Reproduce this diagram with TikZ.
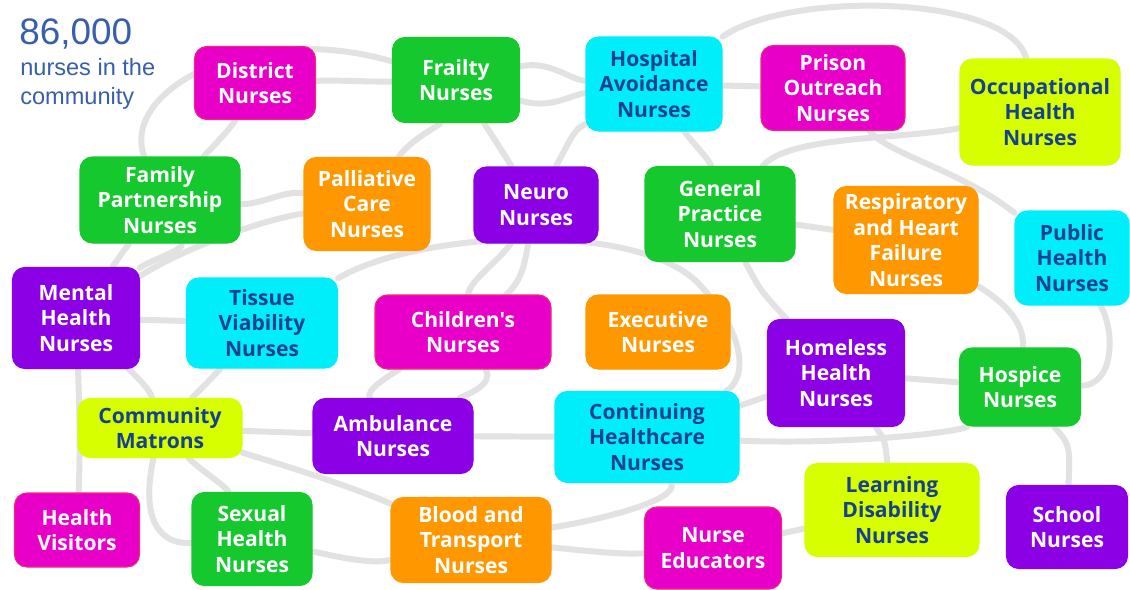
\documentclass[tikz,border=0pt]{standalone}
\usepackage{fontspec}
\usetikzlibrary{backgrounds}
\newfontfamily\boxfont{Open Sans}
\newfontfamily\titlefont{Liberation Sans}
\definecolor{cMag}{RGB}{232,0,200}
\definecolor{cMagB}{RGB}{240,40,120}
\definecolor{cGrn}{RGB}{20,200,45}
\definecolor{cCyn}{RGB}{0,238,250}
\definecolor{cPur}{RGB}{140,0,230}
\definecolor{cOrg}{RGB}{255,152,0}
\definecolor{cLim}{RGB}{215,255,0}
\definecolor{cTxt}{RGB}{20,65,145}
\definecolor{cTitle}{RGB}{55,95,170}
\definecolor{cLine}{RGB}{226,226,226}
\tikzset{
  box/.style={rounded corners=7pt, align=center, inner sep=2pt, line width=0.6pt,
    font=\boxfont\bfseries\fontsize{12}{14.5}\selectfont, text=white},
  mag/.style={box, fill=cMag, draw=cMagB},
  grn/.style={box, fill=cGrn, draw=cGrn},
  cyn/.style={box, fill=cCyn, draw=cCyn, text=cTxt},
  pur/.style={box, fill=cPur, draw=cPur},
  org/.style={box, fill=cOrg, draw=cOrg},
  lim/.style={box, fill=cLim, draw=cLim, text=cTxt},
  sz/.style 2 args={minimum width=#1*0.02cm, minimum height=#2*0.02cm},
  bg/.style={draw=cLine, line width=3.4pt, line cap=round},
  ttl/.style={inner sep=0pt, anchor=north west, align=left, text=cTitle}
}
\begin{document}
\begin{tikzpicture}[x=0.02cm, y=-0.02cm]
\useasboundingbox (0,0) rectangle (1130,589);

% title
\node[ttl, font=\titlefont\fontsize{21}{24}\selectfont] (big) at (19,18) {86,000};
\node[ttl, font=\titlefont\fontsize{13.4}{16.4}\selectfont] (sub) at (20,58) {nurses in the\\community};

% boxes
\node[mag, sz={121}{73}]  (dist)  at (255,83)  {District\\Nurses};
\node[grn, sz={127}{85}]  (frail) at (456,80)  {Frailty\\Nurses};
\node[cyn, sz={136}{94}]  (hosp)  at (654,84)  {Hospital\\Avoidance\\Nurses};
\node[mag, sz={144}{85}]  (pris)  at (833,88)  {Prison\\Outreach\\Nurses};
\node[lim, sz={160}{106}] (occ)   at (1040,112) {Occupational\\Health\\Nurses};
\node[grn, sz={160}{86}]  (fam)   at (160,200) {Family\\Partnership\\Nurses};
\node[org, sz={126}{93}]  (pall)  at (367,204) {Palliative\\Care\\Nurses};
\node[pur, sz={124}{76}]  (neuro) at (536,205) {Neuro\\Nurses};
\node[grn, sz={150}{95}]  (gp)    at (720,214) {General\\Practice\\Nurses};
\node[org, sz={144}{107}] (resp)  at (906,240) {Respiratory\\and Heart\\Failure\\Nurses};
\node[cyn, sz={114}{94}]  (pub)   at (1072,258) {Public\\Health\\Nurses};
\node[pur, sz={127}{101}] (ment)  at (76,318)  {Mental\\Health\\Nurses};
\node[cyn, sz={151}{90}]  (tiss)  at (262,323) {Tissue\\Viability\\Nurses};
\node[mag, sz={176}{74}]  (child) at (463,332) {Children's\\Nurses};
\node[org, sz={144}{74}]  (exec)  at (658,332) {Executive\\Nurses};
\node[pur, sz={137}{107}] (home)  at (836,373) {Homeless\\Health\\Nurses};
\node[grn, sz={121}{78}]  (hosp2) at (1020,387) {Hospice\\Nurses};
\node[lim, sz={164}{59}]  (comm)  at (160,428) {Community\\Matrons};
\node[pur, sz={160}{75}]  (amb)   at (393,436) {Ambulance\\Nurses};
\node[cyn, sz={184}{91}]  (cont)  at (647,437) {Continuing\\Healthcare\\Nurses};
\node[mag, sz={125}{74}]  (hv)    at (77,530)  {Health\\Visitors};
\node[grn, sz={120}{93}]  (sex)   at (252,539) {Sexual\\Health\\Nurses};
\node[org, sz={160}{85}]  (blood) at (471,540) {Blood and\\Transport\\Nurses};
\node[mag, sz={137}{82}]  (educ)  at (713,548) {Nurse\\Educators};
\node[lim, sz={174}{93}]  (learn) at (892,510) {Learning\\Disability\\Nurses};
\node[pur, sz={121}{83}]  (school) at (1067,527) {School\\Nurses};

\begin{pgfonlayer}{background}
\fill[white] (0,0) rectangle (1130,589);
% top left arcs
\draw[bg] (fam) .. controls (120,90) and (250,20) .. (frail);
\draw[bg] (fam) .. controls (200,160) and (230,130) .. (dist);
\draw[bg] (dist) .. controls (340,80) and (370,82) .. (frail);
\draw[bg] (pall) .. controls (410,140) and (440,125) .. (frail);
\draw[bg] (fam) .. controls (260,205) and (285,190) .. (pall);
% frailty / hospital / neuro
\draw[bg] (frail) .. controls (550,60) and (570,80) .. (hosp);
\draw[bg] (frail) .. controls (550,110) and (570,95) .. (hosp);
\draw[bg] (frail) .. controls (495,140) .. (neuro);
\draw[bg] (hosp) .. controls (575,130) .. (neuro);
\draw[bg] (hosp) .. controls (690,140) and (710,160) .. (gp);
\draw[bg] (hosp) -- (pris);
% top right arcs
\draw[bg] (hosp) .. controls (790,-10) and (1010,-5) .. (occ);
\draw[bg] (gp) .. controls (790,135) and (900,140) .. (occ);
\draw[bg] (pris) .. controls (890,155) and (960,170) .. (pub);
\draw[bg] (gp) -- (resp);
\draw[bg] (resp) .. controls (1000,300) and (1025,320) .. (hosp2);
\draw[bg] (pub) .. controls (1115,330) and (1115,385) .. (hosp2);
\draw[bg] (gp) .. controls (760,290) .. (home);
\draw[bg] (home) -- (hosp2);
\draw[bg] (cont) .. controls (850,445) and (960,432) .. (hosp2);
\draw[bg] (cont) -- (home);
\draw[bg] (home) .. controls (885,440) .. (learn);
\draw[bg] (hosp2) .. controls (1070,445) .. (school);
\draw[bg] (educ) -- (learn);
% centre
\draw[bg] (neuro) .. controls (500,260) and (470,280) .. (child);
\draw[bg] (neuro) .. controls (525,260) and (523,280) .. (child);
\draw[bg] (tiss) .. controls (420,230) and (640,220) .. (700,285)
          .. controls (750,340) and (745,380) .. (cont);
\draw[bg] (child) .. controls (390,375) and (365,390) .. (amb);
\draw[bg] (child) .. controls (495,385) and (465,395) .. (amb);
\draw[bg] (amb) -- (cont);
\draw[bg] (cont) .. controls (680,500) and (600,520) .. (blood);
\draw[bg] (blood) .. controls (580,550) and (620,555) .. (educ);
% left
\draw[bg] (fam) -- (ment);
\draw[bg] (ment) .. controls (150,260) and (185,250) .. (fam);
\draw[bg] (ment) .. controls (180,250) and (260,220) .. (pall);
\draw[bg] (ment) .. controls (150,320) .. (tiss);
\draw[bg] (ment) .. controls (80,420) and (80,460) .. (hv);
\draw[bg] (ment) .. controls (140,380) and (150,390) .. (comm);
\draw[bg] (tiss) .. controls (210,380) and (195,395) .. (comm);
\draw[bg] (comm) .. controls (140,520) and (160,545) .. (sex);
\draw[bg] (comm) .. controls (200,470) and (225,485) .. (sex);
\draw[bg] (comm) -- (amb);
\draw[bg] (comm) .. controls (300,470) and (360,490) .. (blood);
\draw[bg] (sex) .. controls (330,555) and (370,565) .. (blood);
\end{pgfonlayer}
\end{tikzpicture}
\end{document}
